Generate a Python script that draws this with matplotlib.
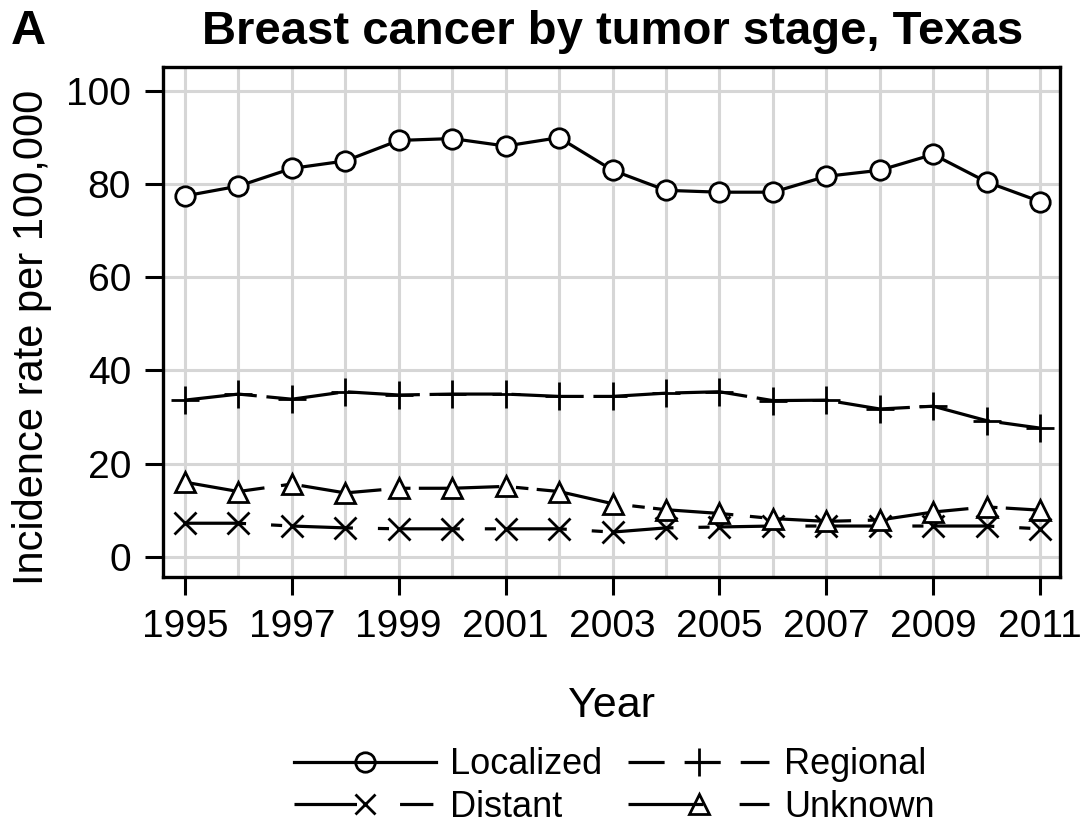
import numpy as np
import matplotlib
matplotlib.use("Agg")
import matplotlib.pyplot as plt
from matplotlib.lines import Line2D

plt.rcParams['font.family'] = ['Liberation Sans', 'DejaVu Sans']
plt.rcParams['lines.scale_dashes'] = False

years = list(range(1995, 2012))
localized = [77.4, 79.5, 83.3, 84.9, 89.3, 89.7, 88.1, 89.9, 82.9, 78.6,
             78.2, 78.2, 81.6, 82.9, 86.3, 80.4, 76.2]
regional = [33.6, 34.9, 33.8, 35.4, 34.7, 34.9, 34.9, 34.4, 34.4, 35.1,
            35.4, 33.5, 33.6, 31.7, 32.3, 29.2, 27.6]
distant = [7.2, 7.2, 6.6, 6.2, 6.0, 6.0, 6.0, 6.0, 5.3, 6.2,
           6.4, 6.6, 6.6, 6.6, 6.6, 6.6, 6.0]
unknown = [16.0, 14.0, 15.6, 13.7, 14.7, 14.7, 15.1, 14.0, 11.4, 10.1,
           9.3, 8.2, 7.6, 7.9, 9.6, 10.7, 10.0]
labels = ['Localized', 'Distant', 'Regional', 'Unknown']

fig = plt.figure(figsize=(10.87, 8.30), dpi=100)
ax = fig.add_axes([0.150, 0.305, 0.825, 0.614])

lw = 2.3
ms = 14
mew = 2.0
ax.plot(years, localized, color='black', lw=lw, ls='-', marker='o', ms=ms,
        mfc='white', mec='black', mew=mew, zorder=5)
ax.plot(years, regional, color='black', lw=lw, ls=(0, (52, 7)), marker='+',
        ms=ms + 6, mew=mew, zorder=4)
ax.plot(years, distant, color='black', lw=lw, ls=(0, (44, 18, 8, 7)), marker='x',
        ms=ms + 2, mew=mew, zorder=4)
ax.plot(years, unknown, color='black', lw=lw, ls=(0, (58, 12, 9, 6)), marker='^',
        ms=ms, mfc='white', mec='black', mew=mew, zorder=4)

ax.set_xlim(1994.59, 2011.37)
ax.set_ylim(-4.3, 105)
ax.set_xticks(range(1995, 2012, 2))
ax.set_xticks(years, minor=True)
ax.set_yticks(range(0, 101, 20))
ax.tick_params(axis='both', which='major', labelsize=28, length=13, width=2.2,
               direction='out', pad=10)
ax.tick_params(axis='x', which='minor', length=0)
ax.grid(True, which='major', axis='y', color='#d6d6d6', lw=2.2)
ax.grid(True, which='both', axis='x', color='#d6d6d6', lw=2.2)
ax.set_axisbelow(True)
for s in ax.spines.values():
    s.set_linewidth(2.4)

ax.set_xlabel('Year', fontsize=31, labelpad=30)
ax.set_ylabel('Incidence rate per 100,000', fontsize=30)
ax.yaxis.set_label_coords(-0.124, 0.47)

fig.text(0.564, 0.962, 'Breast cancer by tumor stage, Texas', fontsize=34,
         fontweight='bold', ha='center', va='center')
fig.text(0.010, 0.962, 'A', fontsize=35, fontweight='bold', ha='left', va='center')

# legend keys drawn with their own dash patterns, like the SAS legend
leg_handles = [
    Line2D([], [], color='black', lw=lw, ls='-', marker='o', ms=14, mfc='none', mew=mew),
    Line2D([], [], color='black', lw=lw, ls=(0, (45, 31, 24, 10)), marker='x', ms=15, mew=mew),
    Line2D([], [], color='black', lw=lw, ls=(0, (26, 14.4)), marker='+', ms=20, mew=mew),
    Line2D([], [], color='black', lw=lw, ls=(0, (54, 26, 22, 10)), marker='^', ms=14,
           mfc='none', mew=mew),
]
fig.legend(leg_handles, labels, loc='center', bbox_to_anchor=(0.565, 0.053), ncol=2,
           frameon=False, fontsize=26, handlelength=3.93, handletextpad=0.4,
           columnspacing=0.7, labelspacing=0.2, borderaxespad=0)

fig.savefig('out.png', dpi=100)
